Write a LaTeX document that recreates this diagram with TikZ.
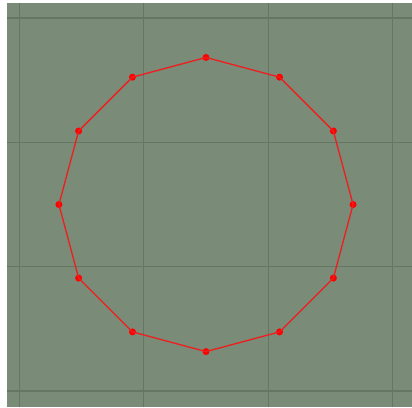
\documentclass[tikz,border=0pt]{standalone}
\usetikzlibrary{calc}
\definecolor{plotbg}{RGB}{122,139,120}
\definecolor{gridline}{RGB}{102,117,100}
\definecolor{polyred}{RGB}{238,30,30}

\begin{document}
\begin{tikzpicture}[
  backdrop/.style={fill=plotbg, draw=none},
  gridrule/.style={draw=gridline, line width=0.25pt},
  vertex/.style={circle, fill=red, inner sep=0pt, minimum size=1.6pt},
  edge/.style={draw=polyred, line width=0.3pt},
]
% ---- page and backdrop
\useasboundingbox (-1.657,-1.629) rectangle (1.657,1.645);
\fill[white] (-1.657,-1.629) rectangle (1.657,1.645);
\fill[backdrop] (-1.601,-1.629) rectangle (1.657,1.621);

% ---- grid
\foreach \g in {-1.5,-0.5,0.5,1.5} {
  \draw[gridrule] (\g,-1.629) -- (\g,1.621);
  \draw[gridrule] (-1.601,\g) -- (1.657,\g);
}

% ---- twelve corners
\foreach \k in {0,...,11}
  \node[vertex] (v\k) at ({90+30*\k}:1.183) {};

% ---- sides
\foreach \k [evaluate=\k as \n using {int(mod(\k+1,12))}] in {0,...,11}
  \draw[edge] (v\k.center) -- (v\n.center);
\end{tikzpicture}
\end{document}
